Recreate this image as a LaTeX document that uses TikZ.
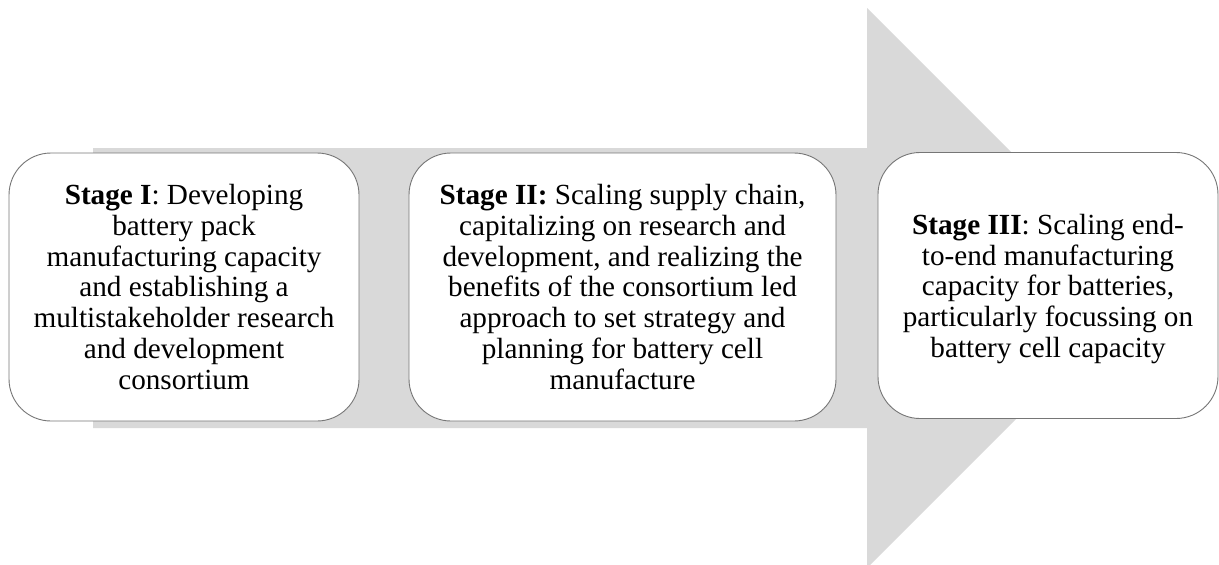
\documentclass[tikz,border=0pt]{standalone}
\usepackage{fontspec}
\setmainfont{Liberation Serif}
\begin{document}
\begin{tikzpicture}[x=1pt,y=-1pt,
  bigarrow/.style={fill=arrowgray,draw=none},
  stagetext/.style={align=center,inner sep=0pt,font=\fontsize{29.2}{30.8}\selectfont},
  stagebox/.style={stagetext,draw=boxedge,line width=0.9pt,fill=white,rounded corners=42pt}]
\definecolor{arrowgray}{HTML}{D9D9D9}
\definecolor{boxedge}{HTML}{767676}
\useasboundingbox (0,0) rectangle (1219,565);
% block arrow behind the three stages
\fill[bigarrow] (93,148) -- (867,148) -- (867,8) -- (1147,288) -- (867,568)
  -- (867,428) -- (93,428) -- cycle;
% stage boxes
\node[stagebox,minimum width=350pt,minimum height=268pt] (s1) at (184,287)
  {\textbf{Stage I}: Developing\\ battery pack\\ manufacturing capacity\\ and establishing a\\ multistakeholder research\\ and development\\ consortium};
\node[stagebox,minimum width=427pt,minimum height=268pt] (s2) at (622.5,287)
  {\textbf{Stage II:} Scaling supply chain,\\ capitalizing on research and\\ development, and realizing the\\ benefits of the consortium led\\ approach to set strategy and\\ planning for battery cell\\ manufacture};
\node[stagebox,minimum width=340pt,minimum height=266pt] (s3) at (1048,285.5) {};
\node[stagetext] (t3) at (1048,289)
  {\textbf{Stage III}: Scaling end-\\ to-end manufacturing\\ capacity for batteries,\\ particularly focussing on\\ battery cell capacity};
\end{tikzpicture}
\end{document}
